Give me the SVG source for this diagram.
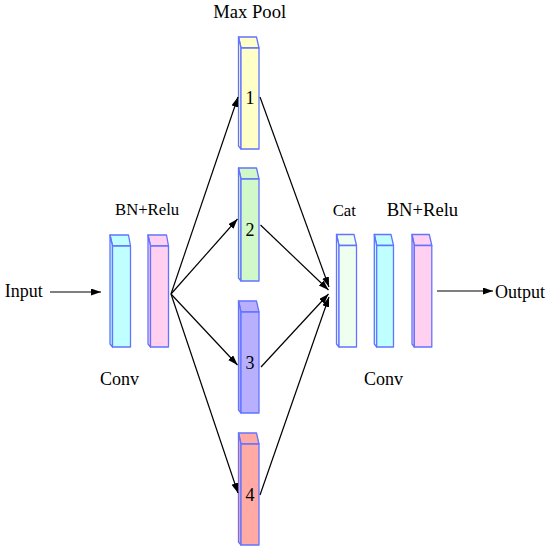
<svg xmlns="http://www.w3.org/2000/svg" width="550" height="550" viewBox="0 0 550 550" font-family="'Liberation Serif', 'Times New Roman', 'DejaVu Serif', serif">
<defs>
<style>
.box path, .box rect { stroke:#6373ff; stroke-width:1.3; stroke-linejoin:round; }
.box text, #labels text { font-family:"Liberation Serif","Times New Roman","DejaVu Serif",serif; fill:#000; stroke:none; }
.lbl { font-size:18px; }
.sm { font-size:16.7px; }
.num { font-size:18px; text-anchor:middle; }
.conn line { stroke:#000; stroke-width:1.2; }
</style>
<marker id="ah" markerUnits="userSpaceOnUse" markerWidth="11" markerHeight="8" refX="10" refY="3.5" orient="auto">
<path d="M0,0 L10,3.5 L0,7 z" fill="#000"/>
</marker>
</defs>
<rect width="550" height="550" fill="#fff"/>

<g id="conv1" class="box" fill="#c0ffff">
<path d="M110,235 L128.5,235 L130.5,246 L112.5,246 Z"/>
<path d="M110,235 L112.5,246 L112.5,347 L110,344 Z"/>
<rect x="112.5" y="246" width="18" height="101"/>
</g>
<g id="bnrelu1" class="box" fill="#ffd0f0">
<path d="M148,235 L166.5,235 L168.5,246 L150.5,246 Z"/>
<path d="M148,235 L150.5,246 L150.5,347 L148,344 Z"/>
<rect x="150.5" y="246" width="18" height="101"/>
</g>

<g id="pool1" class="box" fill="#ffffc8">
<path d="M238.5,37 L256.5,37 L259,48 L241,48 Z"/>
<path d="M238.5,37 L241,48 L241,149 L238.5,146 Z"/>
<rect x="241" y="48" width="18" height="101"/>
<text class="num" x="250" y="104" font-family="'Liberation Serif', serif">1</text>
</g>
<g id="pool2" class="box" fill="#d0f8c8">
<path d="M238.5,168 L256.5,168 L259,179 L241,179 Z"/>
<path d="M238.5,168 L241,179 L241,281 L238.5,278 Z"/>
<rect x="241" y="179" width="18" height="102"/>
<text class="num" x="250" y="236" font-family="'Liberation Serif', serif">2</text>
</g>
<g id="pool3" class="box" fill="#b8b0ff">
<path d="M238.5,301 L256.5,301 L259,312 L241,312 Z"/>
<path d="M238.5,301 L241,312 L241,413 L238.5,410 Z"/>
<rect x="241" y="312" width="18" height="101"/>
<text class="num" x="250" y="369" font-family="'Liberation Serif', serif">3</text>
</g>
<g id="pool4" class="box" fill="#ffaaa4">
<path d="M238.5,433 L256.5,433 L259,444 L241,444 Z"/>
<path d="M238.5,433 L241,444 L241,545 L238.5,542 Z"/>
<rect x="241" y="444" width="18" height="101"/>
<text class="num" x="250" y="500.5" font-family="'Liberation Serif', serif">4</text>
</g>

<g id="cat" class="box" fill="#eefff0">
<path d="M336.5,234.5 L354,234.5 L356.5,245.5 L339,245.5 Z"/>
<path d="M336.5,234.5 L339,245.5 L339,347 L336.5,344 Z"/>
<rect x="339" y="245.5" width="17.5" height="101.5"/>
</g>
<g id="conv2" class="box" fill="#c0ffff">
<path d="M374.3,234.5 L391,234.5 L393.5,245.5 L376.7,245.5 Z"/>
<path d="M374.3,234.5 L376.7,245.5 L376.7,347 L374.3,344 Z"/>
<rect x="376.7" y="245.5" width="16.8" height="101.5"/>
</g>
<g id="bnrelu2" class="box" fill="#ffd0f0">
<path d="M412,234.5 L429.3,234.5 L431.8,245.5 L414.3,245.5 Z"/>
<path d="M412,234.5 L414.3,245.5 L414.3,347 L412,344 Z"/>
<rect x="414.3" y="245.5" width="17.5" height="101.5"/>
</g>

<g id="labels" font-family="'Liberation Serif', serif">
<text class="lbl" x="4.7" y="297">Input</text>
<text class="lbl" x="495" y="297.5">Output</text>
<text class="lbl" x="213.3" y="18" style="font-size:18.6px">Max Pool</text>
<text class="sm" x="115" y="215">BN+Relu</text>
<text class="sm" x="332.7" y="215.5">Cat</text>
<text class="lbl" x="386.7" y="215.5" style="font-size:18.6px">BN+Relu</text>
<text class="lbl" x="100" y="385">Conv</text>
<text class="lbl" x="364" y="385">Conv</text>
</g>

<g id="connectors" class="conn">
<line x1="50" y1="292" x2="101" y2="292" marker-end="url(#ah)"/>
<line x1="171" y1="294" x2="238" y2="97" marker-end="url(#ah)"/>
<line x1="171" y1="294" x2="237.5" y2="219" marker-end="url(#ah)"/>
<line x1="171" y1="294" x2="237.5" y2="365" marker-end="url(#ah)"/>
<line x1="171" y1="294" x2="238" y2="493" marker-end="url(#ah)"/>
<line x1="260" y1="97" x2="329" y2="287" marker-end="url(#ah)"/>
<line x1="260.5" y1="225" x2="328.5" y2="290" marker-end="url(#ah)"/>
<line x1="261" y1="367" x2="328.5" y2="294" marker-end="url(#ah)"/>
<line x1="260" y1="495" x2="329" y2="297" marker-end="url(#ah)"/>
<line x1="437" y1="291" x2="493" y2="291" marker-end="url(#ah)"/>
</g>
</svg>
